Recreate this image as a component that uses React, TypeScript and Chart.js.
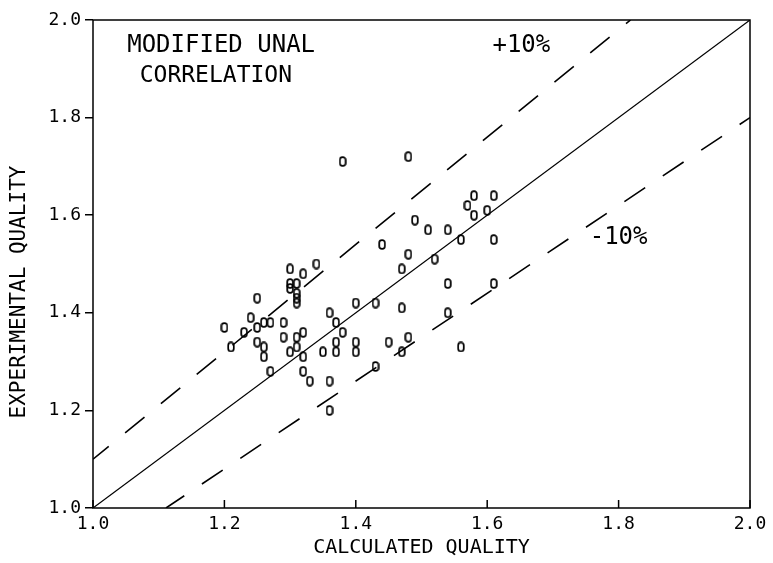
import React, { useEffect, useRef } from "react";
import { Chart, registerables } from "chart.js";

Chart.register(...registerables);

// ---- data ----
const xTickValues = [1.0, 1.2, 1.4, 1.6, 1.8, 2.0];
const yTickValues = [1.0, 1.2, 1.4, 1.6, 1.8, 2.0];

const calculatedQuality = [
  1.30, 1.32, 1.34, 1.30, 1.31, 1.30, 1.31, 1.31, 1.31, 1.25,
  1.36, 1.24, 1.26, 1.27, 1.29, 1.20, 1.23, 1.25, 1.25, 1.32,
  1.21, 1.29, 1.31, 1.31, 1.26, 1.26, 1.30, 1.32, 1.35, 1.27,
  1.32, 1.33, 1.36, 1.36,
  1.38, 1.48, 1.57, 1.49, 1.51, 1.54, 1.56, 1.44, 1.48, 1.52,
  1.47, 1.54,
  1.40, 1.43, 1.47, 1.54, 1.37, 1.38, 1.37, 1.37, 1.40, 1.40,
  1.45, 1.48, 1.47, 1.56, 1.43,
  1.58, 1.61, 1.58, 1.60, 1.61, 1.61,
];
const experimentalQuality = [
  1.49, 1.48, 1.50, 1.46, 1.46, 1.45, 1.44, 1.43, 1.42, 1.43,
  1.40, 1.39, 1.38, 1.38, 1.38, 1.37, 1.36, 1.37, 1.34, 1.36,
  1.33, 1.35, 1.35, 1.33, 1.33, 1.31, 1.32, 1.31, 1.32, 1.28,
  1.28, 1.26, 1.26, 1.20,
  1.71, 1.72, 1.62, 1.59, 1.57, 1.57, 1.55, 1.54, 1.52, 1.51,
  1.49, 1.46,
  1.42, 1.42, 1.41, 1.40, 1.38, 1.36, 1.34, 1.32, 1.34, 1.32,
  1.34, 1.35, 1.32, 1.33, 1.29,
  1.64, 1.64, 1.60, 1.61, 1.55, 1.46,
];

// reference lines: y = x, y = 1.1x, y = 0.9x (clipped to the 1..2 frame)
const equalityX = [1.0, 2.0];
const equalityY = [1.0, 2.0];
const plusTenX = [1.0, 2.0 / 1.1];
const plusTenY = [1.1, 2.0];
const minusTenX = [1.0 / 0.9, 2.0];
const minusTenY = [1.0, 1.8];

const xTitle = "CALCULATED QUALITY";
const yTitle = "EXPERIMENTAL QUALITY";
const noteLines = ["MODIFIED UNAL", "CORRELATION"];
const plusLabel = "+10%";
const minusLabel = "-10%";

const FONT = "'DejaVu Sans Mono', 'Liberation Mono', monospace";

function pts(xs: number[], ys: number[]) {
  return xs.map((x, i) => ({ x, y: ys[i] }));
}

function makeMarker(): HTMLCanvasElement {
  const c = document.createElement("canvas");
  c.width = 8;
  c.height = 11;
  const g = c.getContext("2d")!;
  g.strokeStyle = "#000";
  g.lineWidth = 1.7;
  const x = 1.2, y = 1.2, w = 5.6, h = 8.6, r = 2.6;
  g.beginPath();
  g.moveTo(x + r, y);
  g.lineTo(x + w - r, y);
  g.arcTo(x + w, y, x + w, y + r, r);
  g.lineTo(x + w, y + h - r);
  g.arcTo(x + w, y + h, x + w - r, y + h, r);
  g.lineTo(x + r, y + h);
  g.arcTo(x, y + h, x, y + h - r, r);
  g.lineTo(x, y + r);
  g.arcTo(x, y, x + r, y, r);
  g.closePath();
  g.stroke();
  return c;
}

const decorPlugin = {
  id: "decor",
  afterDraw(chart: any) {
    const { ctx, chartArea: a, scales } = chart;
    const sx = scales.x;
    const sy = scales.y;
    ctx.save();
    ctx.strokeStyle = "#000";
    ctx.lineWidth = 1.5;
    ctx.strokeRect(a.left, a.top, a.right - a.left, a.bottom - a.top);
    // inward ticks on x axis
    ctx.beginPath();
    for (const v of xTickValues) {
      const px = sx.getPixelForValue(v);
      ctx.moveTo(px, a.bottom);
      ctx.lineTo(px, a.bottom - 8);
    }
    ctx.stroke();

    ctx.fillStyle = "#000";
    ctx.textAlign = "center";
    ctx.textBaseline = "middle";
    // annotations
    ctx.font = `24px ${FONT}`;
    ctx.fillText(noteLines[0], sx.getPixelForValue(1.195), sy.getPixelForValue(1.947));
    ctx.font = `23px ${FONT}`;
    ctx.fillText(noteLines[1], sx.getPixelForValue(1.187), sy.getPixelForValue(1.885));
    ctx.font = `24px ${FONT}`;
    ctx.fillText(plusLabel, sx.getPixelForValue(1.652), sy.getPixelForValue(1.947));
    ctx.fillText(minusLabel, sx.getPixelForValue(1.80), sy.getPixelForValue(1.553));

    // axis titles
    ctx.font = `20px ${FONT}`;
    ctx.fillText(xTitle, (a.left + a.right) / 2, a.bottom + 40);
    ctx.font = `21px ${FONT}`;
    ctx.translate(20, (a.top + a.bottom) / 2 + 28);
    ctx.rotate(-Math.PI / 2);
    ctx.fillText(yTitle, 0, 0);
    ctx.restore();
  },
};

export default function App() {
  const ref = useRef<HTMLCanvasElement | null>(null);

  useEffect(() => {
    if (!ref.current) return;
    const marker = makeMarker();
    const chart = new Chart(ref.current, {
      type: "scatter",
      data: {
        datasets: [
          {
            label: "data",
            data: pts(calculatedQuality, experimentalQuality),
            pointStyle: marker as any,
            pointRadius: 4,
            borderColor: "#000",
            backgroundColor: "#000",
          },
          {
            label: "equal",
            data: pts(equalityX, equalityY),
            showLine: true,
            pointRadius: 0,
            borderColor: "#000",
            borderWidth: 1.2,
          },
          {
            label: "+10",
            data: pts(plusTenX, plusTenY),
            showLine: true,
            pointRadius: 0,
            borderColor: "#000",
            borderWidth: 1.6,
            borderDash: [25, 21.2],
            borderDashOffset: 4.7,
          },
          {
            label: "-10",
            data: pts(minusTenX, minusTenY),
            showLine: true,
            pointRadius: 0,
            borderColor: "#000",
            borderWidth: 1.6,
            borderDash: [25, 21.2],
            borderDashOffset: 3.0,
          },
        ],
      },
      options: {
        responsive: false,
        animation: false,
        layout: { padding: { top: 20, right: 23, left: 0, bottom: 0 } },
        plugins: {
          legend: { display: false },
          tooltip: { enabled: false },
        },
        scales: {
          x: {
            type: "linear",
            min: 1.0,
            max: 2.0,
            afterBuildTicks: (s: any) => {
              s.ticks = xTickValues.map((v) => ({ value: v }));
            },
            afterFit: (s: any) => {
              s.height = 55;
            },
            grid: { display: false, drawTicks: false },
            border: { display: false },
            ticks: {
              color: "#000",
              padding: 6,
              maxRotation: 0,
              font: { family: FONT, size: 18 },
              callback: (v: any) => Number(v).toFixed(1),
            },
          },
          y: {
            type: "linear",
            min: 1.0,
            max: 2.0,
            afterBuildTicks: (s: any) => {
              s.ticks = yTickValues.map((v) => ({ value: v }));
            },
            afterFit: (s: any) => {
              s.width = 93;
            },
            grid: {
              display: true,
              drawOnChartArea: false,
              drawTicks: true,
              tickLength: 8,
              color: "#000",
              lineWidth: 1.5,
            },
            border: { display: false },
            ticks: {
              color: "#000",
              padding: 4,
              font: { family: FONT, size: 18 },
              callback: (v: any) => Number(v).toFixed(1),
            },
          },
        },
      },
      plugins: [decorPlugin],
    });
    return () => chart.destroy();
  }, []);

  return (
    <div style={{ position: "absolute", left: 0, top: 0, width: 773, height: 563, background: "#fff" }}>
      <canvas ref={ref} width={773} height={563} />
    </div>
  );
}
